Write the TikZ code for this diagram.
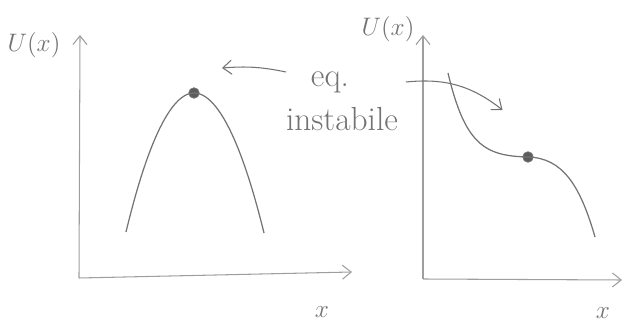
\documentclass[tikz,border=0pt]{standalone}
\usepackage{amsmath,amssymb}
\usepackage{xcolor}
\usetikzlibrary{arrows.meta}

\definecolor{pencil}{gray}{0.45}
\definecolor{lightpencil}{gray}{0.62}

\tikzset{
  axis/.style={draw=lightpencil,line width=0.6pt,-{Straight Barb[length=5pt,width=8pt]}},
  sketch/.style={draw=pencil,line width=0.7pt},
  eqpt/.style={draw=pencil,circle,fill=pencil!80!black,inner sep=0pt,minimum size=6pt},
  hint/.style={draw=pencil,line width=0.6pt,-{Straight Barb[length=5pt,width=8pt]}},
  lab/.style={text=pencil,inner sep=1pt}
}

\begin{document}
\begin{tikzpicture}
            \useasboundingbox (0,0) rectangle (12.54,6.5);
            % left: maximum
            \coordinate (o1) at (1.58,0.94);
            \coordinate (y1) at (1.6,5.8);
            \coordinate (x1) at (7.04,1.06);
            \draw[axis] (o1) -- (y1);
            \draw[axis] (o1) -- (x1);
            \node[lab,font=\Large] at (0.68,5.6) (u1) {$U(x)$};
            \node[lab,font=\Large] at (6.44,0.26) (xl1) {$x$};
            \coordinate (a1) at (2.52,1.86);
            \coordinate (b1) at (5.28,1.84);
            \node[eqpt] at (3.88,4.64) (p1) {};
            \draw[sketch] (a1) parabola bend (p1.center) (b1);
            % right: flex
            \coordinate (o2) at (8.46,0.92);
            \coordinate (y2) at (8.46,5.8);
            \coordinate (x2) at (12.44,0.9);
            \draw[axis] (o2) -- (y2);
            \draw[axis] (o2) -- (x2);
            \node[lab,font=\Large] at (7.76,5.92) (u2) {$U(x)$};
            \node[lab,font=\Large] at (12.06,0.24) (xl2) {$x$};
            \coordinate (a2) at (8.96,5.04);
            \coordinate (b2) at (11.9,1.76);
            \node[eqpt] at (10.56,3.36) (p2) {};
            \draw[sketch] (a2) .. controls (9.3,3.6) and (9.7,3.38) .. (p2.center)
                              .. controls (11.25,3.34) and (11.6,2.8) .. (b2);
            % label
            \node[lab,font=\fontsize{19}{22}\selectfont] at (6.6,4.86) (eq) {eq.};
            \node[lab,font=\fontsize{19}{22}\selectfont] at (6.84,4.12) (inst) {instabile};
            \coordinate (s1) at (5.72,5.06);
            \coordinate (t1) at (4.44,5.14);
            \coordinate (s2) at (8.12,4.86);
            \coordinate (t2) at (10.05,4.3);
            \draw[hint] (s1) to[bend right=8] (t1);
            \draw[hint] (s2) to[bend left=22] (t2);
          \end{tikzpicture}
\end{document}
